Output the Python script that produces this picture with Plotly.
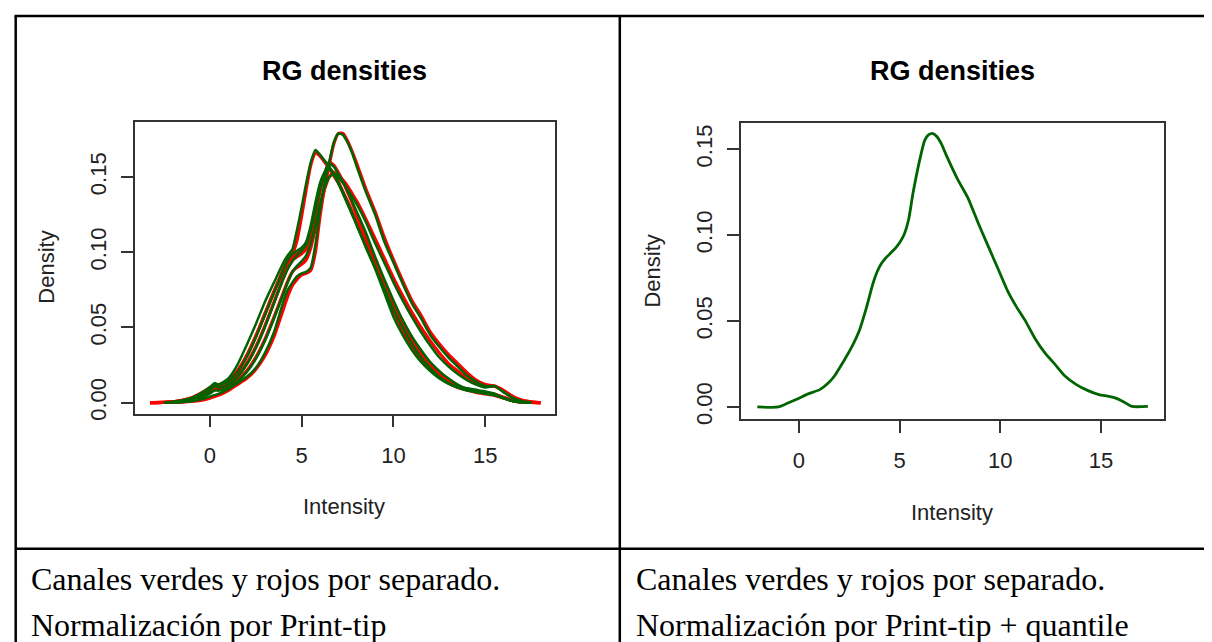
import plotly.graph_objects as go

W, H = 1212, 642

# ---------------- data ----------------
left_x = [-3.25, -2.5, -2, -1.5, -1, -0.5, 0, 0.25, 0.5, 1, 1.5, 2, 2.5, 3, 3.5,
          4, 4.25, 4.5, 4.75, 5, 5.25, 5.5, 5.75, 6, 6.25, 6.5, 6.75, 7, 7.25,
          7.5, 7.75, 8, 8.5, 9, 9.5, 10, 10.5, 11, 11.5, 12, 12.5, 13, 13.5, 14,
          14.5, 15, 15.5, 16, 16.5, 17, 17.5, 18]

red_1 = [0, 0.0002, 0.0006, 0.0015, 0.003, 0.006, 0.009, 0.011, 0.011, 0.015, 0.021, 0.031, 0.044, 0.059, 0.074,
         0.089, 0.095, 0.099, 0.108, 0.124, 0.142, 0.158, 0.166, 0.164, 0.160, 0.156, 0.151, 0.146, 0.140,
         0.134, 0.127, 0.120, 0.106, 0.092, 0.076, 0.061, 0.048, 0.037, 0.029, 0.022, 0.017, 0.013, 0.010, 0.0085,
         0.0075, 0.0065, 0.0055, 0.0035, 0.0015, 0.0004, 0.0001, 0]
red_2 = [0, 0.0001, 0.0002, 0.0004, 0.0008, 0.0015, 0.003, 0.004, 0.005, 0.008, 0.012, 0.016, 0.022, 0.031, 0.044,
         0.062, 0.071, 0.078, 0.082, 0.085, 0.086, 0.088, 0.100, 0.124, 0.143, 0.158, 0.172, 0.179, 0.179,
         0.174, 0.167, 0.159, 0.142, 0.127, 0.110, 0.095, 0.081, 0.068, 0.058, 0.047, 0.039, 0.032, 0.026, 0.020,
         0.015, 0.012, 0.011, 0.008, 0.004, 0.0015, 0.0005, 0]
red_3 = [0, 0.0002, 0.0005, 0.0012, 0.0025, 0.005, 0.009, 0.011, 0.011, 0.013, 0.018, 0.026, 0.037, 0.051, 0.067,
         0.083, 0.090, 0.095, 0.097, 0.099, 0.102, 0.111, 0.125, 0.140, 0.152, 0.160, 0.158, 0.153, 0.147,
         0.140, 0.133, 0.125, 0.110, 0.095, 0.080, 0.066, 0.054, 0.043, 0.034, 0.026, 0.020, 0.015, 0.011, 0.0085,
         0.0068, 0.0058, 0.0048, 0.003, 0.0012, 0.0003, 0.0001, 0]
red_4 = [0, 0.0001, 0.0003, 0.0007, 0.0015, 0.0035, 0.007, 0.009, 0.009, 0.011, 0.015, 0.021, 0.030, 0.042, 0.057,
         0.073, 0.081, 0.087, 0.090, 0.092, 0.095, 0.103, 0.116, 0.130, 0.142, 0.150, 0.153, 0.151, 0.148,
         0.144, 0.139, 0.134, 0.122, 0.109, 0.096, 0.083, 0.071, 0.060, 0.050, 0.041, 0.033, 0.026, 0.021, 0.016,
         0.013, 0.011, 0.011, 0.008, 0.004, 0.0015, 0.0004, 0]
red_5 = [0, 0.0002, 0.0006, 0.0016, 0.0032, 0.0062, 0.010, 0.012, 0.012, 0.015, 0.021, 0.031, 0.044, 0.059, 0.074,
         0.087, 0.093, 0.097, 0.099, 0.101, 0.105, 0.115, 0.130, 0.144, 0.152, 0.155, 0.153, 0.147, 0.140,
         0.133, 0.126, 0.119, 0.105, 0.091, 0.077, 0.063, 0.051, 0.040, 0.031, 0.024, 0.018, 0.014, 0.011, 0.009,
         0.0075, 0.0065, 0.0055, 0.0035, 0.0013, 0.0003, 0.0001, 0]

green_1 = [None, None, 0.0005, 0.0015, 0.003, 0.006, 0.010, 0.012, 0.012, 0.016, 0.025, 0.038, 0.052, 0.067, 0.080,
           0.093, 0.098, 0.102, 0.115, 0.130, 0.146, 0.160, 0.168, 0.165, 0.161, 0.157, 0.152, 0.146, 0.140,
           0.133, 0.126, 0.118, 0.103, 0.089, 0.073, 0.057, 0.045, 0.035, 0.027, 0.021, 0.016, 0.0125, 0.0105, 0.0095,
           0.0085, 0.0075, 0.006, 0.003, 0.001, 0.0002, None, None]
green_2 = [None, None, 0.0002, 0.0005, 0.001, 0.002, 0.004, 0.005, 0.006, 0.009, 0.013, 0.017, 0.023, 0.033, 0.047,
           0.067, 0.075, 0.080, 0.084, 0.086, 0.087, 0.090, 0.105, 0.128, 0.146, 0.160, 0.173, 0.179, 0.178,
           0.173, 0.166, 0.157, 0.140, 0.125, 0.107, 0.093, 0.079, 0.066, 0.056, 0.045, 0.037, 0.030, 0.024, 0.018,
           0.014, 0.011, 0.011, 0.007, 0.003, 0.001, None, None]
green_3 = [None, 0, 0.0004, 0.001, 0.002, 0.004, 0.008, 0.011, 0.010, 0.012, 0.017, 0.025, 0.036, 0.050, 0.066,
           0.082, 0.089, 0.094, 0.098, 0.101, 0.105, 0.115, 0.128, 0.142, 0.153, 0.159, 0.157, 0.152, 0.147,
           0.141, 0.134, 0.127, 0.113, 0.097, 0.082, 0.068, 0.055, 0.044, 0.035, 0.027, 0.021, 0.016, 0.012, 0.009,
           0.007, 0.006, 0.005, 0.003, 0.001, 0.0002, 0, None]
green_4 = [None, None, 0, 0.0005, 0.0012, 0.003, 0.006, 0.008, 0.008, 0.010, 0.014, 0.020, 0.029, 0.041, 0.056,
           0.072, 0.080, 0.087, 0.091, 0.094, 0.098, 0.106, 0.118, 0.132, 0.143, 0.150, 0.152, 0.150, 0.146,
           0.142, 0.137, 0.132, 0.120, 0.106, 0.093, 0.080, 0.068, 0.057, 0.047, 0.038, 0.030, 0.024, 0.019, 0.015,
           0.012, 0.010, 0.011, 0.007, 0.003, 0.001, 0.0002, None]
green_5 = [None, 0, 0.0005, 0.0015, 0.003, 0.006, 0.010, 0.013, 0.012, 0.014, 0.020, 0.030, 0.043, 0.058, 0.073,
           0.088, 0.095, 0.099, 0.101, 0.103, 0.107, 0.118, 0.133, 0.146, 0.153, 0.155, 0.152, 0.146, 0.139,
           0.132, 0.125, 0.118, 0.104, 0.090, 0.076, 0.062, 0.050, 0.039, 0.030, 0.023, 0.017, 0.013, 0.010, 0.008,
           0.007, 0.006, 0.005, 0.003, 0.001, 0.0002, 0, None]

right_x = [-2.06, -1.03, -0.54, -0.04, 0.46, 1.04, 1.45, 1.78, 2.19, 2.61, 3.02, 3.35, 3.68, 3.90,
           4.10, 4.30, 4.55, 4.80, 5.05, 5.25, 5.45, 5.67, 6.00, 6.25, 6.45, 6.66, 6.85, 7.08, 7.32,
           7.90, 8.40, 8.90, 9.39, 9.89, 10.39, 10.80, 11.22, 11.71, 12.21, 12.71, 13.20, 13.78, 14.36,
           14.90, 15.40, 15.77, 16.20, 16.54, 17.33]
right_y = [0.0, 0.0, 0.0023, 0.0048, 0.0076, 0.0101, 0.0138, 0.0182, 0.0259, 0.0345, 0.0450, 0.0575, 0.0718, 0.0790,
           0.0835, 0.0865, 0.0895, 0.0925, 0.0965, 0.1010, 0.1090, 0.1245, 0.1437, 0.1552, 0.1585, 0.1592, 0.1575,
           0.1532, 0.1466, 0.1322, 0.1216, 0.1072, 0.0939, 0.0805, 0.0670, 0.0584, 0.0507, 0.0402, 0.0316, 0.0249,
           0.0182, 0.0130, 0.0095, 0.0072, 0.0062, 0.0050, 0.0025, 0.0003, 0.0003]

x_ticks = [0, 5, 10, 15]
x_tick_text = ["0", "5", "10", "15"]
y_ticks = [0, 0.05, 0.10, 0.15]
y_tick_text = ["0.00", "0.05", "0.10", "0.15"]

title_text = "RG densities"
xlab_text = "Intensity"
ylab_text = "Density"
caption_left = ["Canales verdes y rojos por separado.", "Normalización por Print-tip"]
caption_right = ["Canales verdes y rojos por separado.", "Normalización por Print-tip + quantile"]

RED = "#FF0000"
GREEN = "#006400"
SANS = "Liberation Sans, Arial, sans-serif"
SERIF = "Liberation Serif, Times New Roman, serif"


def px(x):
    return x / W


def py(y):
    return 1 - y / H


fig = go.Figure()
for ys in [red_1, red_2, red_3, red_4, red_5]:
    fig.add_trace(go.Scatter(x=left_x, y=ys, mode="lines",
                             line=dict(color=RED, width=3.2, shape="spline", smoothing=0.5),
                             xaxis="x", yaxis="y", showlegend=False, hoverinfo="skip"))
for ys in [green_1, green_2, green_3, green_4, green_5]:
    fig.add_trace(go.Scatter(x=left_x, y=ys, mode="lines",
                             line=dict(color=GREEN, width=2.5, shape="spline", smoothing=0.5),
                             xaxis="x", yaxis="y", showlegend=False, hoverinfo="skip"))
fig.add_trace(go.Scatter(x=right_x, y=right_y, mode="lines",
                         line=dict(color=GREEN, width=2.8, shape="spline", smoothing=0.6),
                         xaxis="x2", yaxis="y2", showlegend=False, hoverinfo="skip"))

box_color = "#333333"
tick_font = dict(family=SANS, size=22, color="#222222")
common_x = dict(showgrid=False, zeroline=False, showline=True, mirror=True, linecolor=box_color,
                linewidth=1.5, ticks="outside", ticklen=12, tickwidth=1.5, tickcolor=box_color,
                tickvals=x_ticks, ticktext=x_tick_text, tickfont=tick_font, ticklabelstandoff=9,
                fixedrange=True)
common_y = dict(showgrid=False, zeroline=False, showline=True, mirror=True, linecolor=box_color,
                linewidth=1.5, ticks="outside", ticklen=12, tickwidth=1.5, tickcolor=box_color,
                tickvals=y_ticks, ticktext=y_tick_text, tickfont=tick_font, tickangle=-90,
                ticklabelstandoff=6, fixedrange=True)

fig.update_layout(
    width=W, height=H, autosize=False,
    margin=dict(l=0, r=0, t=0, b=0),
    paper_bgcolor="white", plot_bgcolor="white",
    xaxis=dict(common_x, domain=[px(126.8), px(546.6)], range=[-4.08, 18.77], anchor="y"),
    yaxis=dict(common_y, domain=[py(410), py(115)], range=[-0.00724, 0.1868], anchor="x"),
    xaxis2=dict(common_x, domain=[px(732.8), px(1156.4)], range=[-2.88, 18.15], anchor="y2"),
    yaxis2=dict(common_y, domain=[py(415.7), py(116.3)], range=[-0.0071, 0.1653], anchor="x2"),
)

ann = []
for cx in (336.7, 944.6):
    ann.append(dict(text=title_text, x=px(cx), y=py(64), xref="paper", yref="paper",
                    showarrow=False, xanchor="center", yanchor="middle",
                    font=dict(family=SANS, size=27, color="black", weight="bold")))
for cx, cy in ((335.5, 504), (943.5, 510)):
    ann.append(dict(text=xlab_text, x=px(cx), y=py(cy), xref="paper", yref="paper",
                    showarrow=False, xanchor="center", yanchor="middle",
                    font=dict(family=SANS, size=22, color="#222222")))
for cx, cy in ((39, 262.5), (644.5, 266)):
    ann.append(dict(text=ylab_text, x=px(cx), y=py(cy), xref="paper", yref="paper",
                    showarrow=False, xanchor="center", yanchor="middle", textangle=-90,
                    font=dict(family=SANS, size=22, color="#222222")))
for x0, lines in ((20.5, caption_left), (625.5, caption_right)):
    for cy, t in zip((577.5, 624.2), lines):
        ann.append(dict(text=t, x=px(x0), y=py(cy), xref="paper", yref="paper",
                        showarrow=False, xanchor="left", yanchor="middle",
                        font=dict(family=SERIF, size=32, color="black")))
fig.update_layout(annotations=ann)

line_style = dict(color="black", width=2.5)
shapes = [
    dict(type="line", xref="paper", yref="paper", x0=px(6.5), x1=1, y0=py(8), y1=py(8), line=line_style),
    dict(type="line", xref="paper", yref="paper", x0=px(7.7), x1=px(7.7), y0=py(8), y1=0, line=line_style),
    dict(type="line", xref="paper", yref="paper", x0=px(611.8), x1=px(611.8), y0=py(8), y1=0, line=line_style),
    dict(type="line", xref="paper", yref="paper", x0=px(7.7), x1=1, y0=py(546.7), y1=py(546.7), line=line_style),
]
fig.update_layout(shapes=shapes)

fig.write_html("out.html")
